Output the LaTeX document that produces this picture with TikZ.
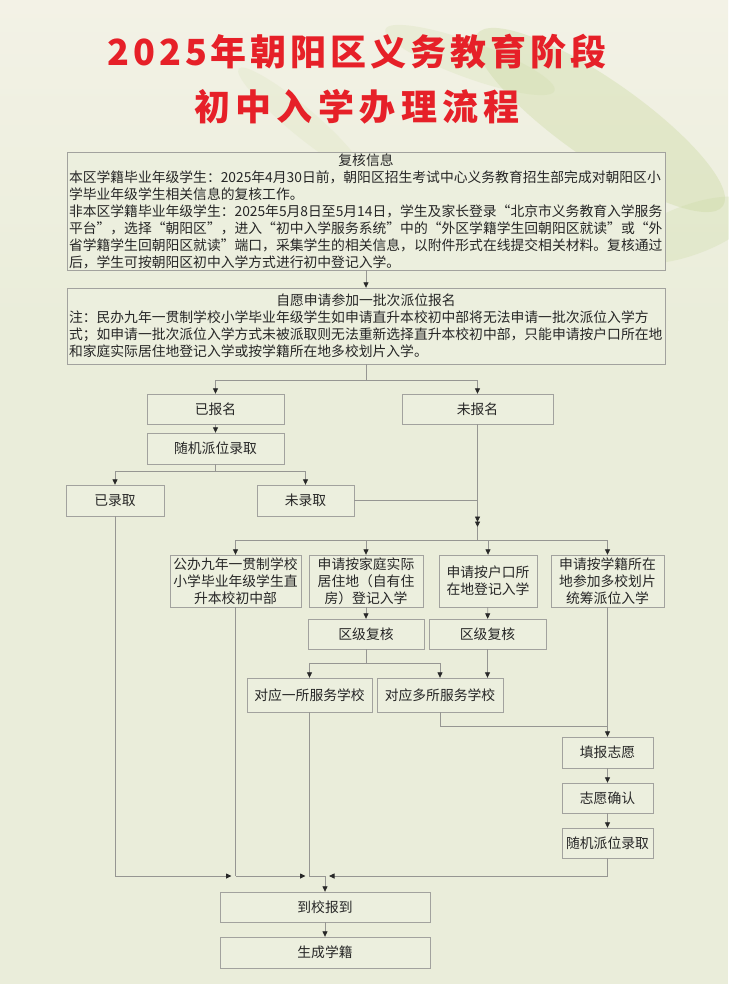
\documentclass[tikz,border=0pt]{standalone}
\usepackage{fontspec}
\setmainfont{Noto Sans CJK SC}
\newfontfamily\titlefont{Noto Sans CJK SC}
\usetikzlibrary{positioning}
\usetikzlibrary{arrows.meta}
\definecolor{paper}{RGB}{234,237,218}
\definecolor{paperlight}{RGB}{243,242,230}
\definecolor{leafgreen}{RGB}{200,216,156}
\definecolor{boxfill}{RGB}{236,239,222}
\definecolor{boxgray}{RGB}{162,162,158}
\definecolor{linegray}{RGB}{150,150,146}
\definecolor{tipdark}{RGB}{40,40,40}
\definecolor{titlered}{RGB}{230,32,40}
\tikzset{
    bodytext/.style = {font=\fontsize{13.8}{17}\selectfont, text=black!85},
    notebox/.style = {rectangle, draw=boxgray, fill=boxfill, bodytext, text width=594pt, align=left, inner xsep=2pt, inner ysep=0pt},
    procbox/.style = {rectangle, draw=boxgray, fill=boxfill, bodytext, align=center, inner sep=1pt},
    flowline/.style = {draw=linegray, line width=0.8pt},
    arrowline/.style = {flowline, -{Triangle[length=5.5pt,width=5pt,color=tipdark]}}}

\begin{document}
\begin{tikzpicture}[x=1pt,y=-1pt]
    \useasboundingbox (0,0) rectangle (728,984);
    % paper and watercolour leaves
    \fill[paper] (0,0) rectangle (728,984);
    \shade[top color=paperlight, bottom color=paper] (0,0) rectangle (728,320);
    \fill[leafgreen, opacity=0.35, rotate around={-35:(600,120)}] (600,120) ellipse (150 and 40);
    \fill[leafgreen, opacity=0.25, rotate around={20:(690,230)}] (690,230) ellipse (70 and 25);
    \fill[leafgreen, opacity=0.2, rotate around={-20:(470,60)}] (470,60) ellipse (90 and 18);
    \fill[leafgreen, opacity=0.15, rotate around={-40:(300,120)}] (300,120) ellipse (80 and 14);

    % title
    \node[text=titlered] (title1) at (357,52)
        {\fontsize{36}{40}\selectfont\titlefont\bfseries\addfontfeatures{LetterSpace=11}2025年朝阳区义务教育阶段};
    \node[text=titlered] (title2) at (357,107)
        {\fontsize{36}{40}\selectfont\titlefont\bfseries\addfontfeatures{LetterSpace=15}初中入学办理流程};

    % notes
    \node[notebox, minimum height=118pt] (verify) at (366,211) {%
        \makebox[\linewidth]{复核信息}\\
        本区学籍毕业年级学生：2025年4月30日前，朝阳区招生考试中心义务教育招生部完成对朝阳区小\\
        学毕业年级学生相关信息的复核工作。\\
        非本区学籍毕业年级学生：2025年5月8日至5月14日，学生及家长登录“北京市义务教育入学服务\\
        平台”，选择“朝阳区”，进入“初中入学服务系统”中的“外区学籍学生回朝阳区就读”或“外\\
        省学籍学生回朝阳区就读”端口，采集学生的相关信息，以附件形式在线提交相关材料。复核通过\\
        后，学生可按朝阳区初中入学方式进行初中登记入学。};
    \node[notebox, minimum height=76pt] (apply) at (366,326) {%
        \makebox[\linewidth]{自愿申请参加一批次派位报名}\\
        注：民办九年一贯制学校小学毕业年级学生如申请直升本校初中部将无法申请一批次派位入学方\\
        式；如申请一批次派位入学方式未被派取则无法重新选择直升本校初中部，只能申请按户口所在地\\
        和家庭实际居住地登记入学或按学籍所在地多校划片入学。};

    % batch lottery
    \node[procbox, minimum width=137pt, minimum height=30pt] (reg) at (215.5,409) {已报名};
    \node[procbox, minimum width=151pt, minimum height=30pt] (noreg) at (477.5,409) {未报名};
    \node[procbox, minimum width=137pt, minimum height=31pt] (lottery) at (215.5,448.5) {随机派位录取};
    \node[procbox, minimum width=98pt, minimum height=31pt] (admit) at (115,500.5) {已录取};
    \node[procbox, minimum width=97pt, minimum height=31pt] (notadmit) at (305.5,500.5) {未录取};

    % the four ways
    \node[procbox, minimum width=131pt, minimum height=52pt] (direct) at (235.5,581)
        {公办九年一贯制学校\\小学毕业年级学生直\\升本校初中部};
    \node[procbox, minimum width=114pt, minimum height=52pt] (home) at (366,581)
        {申请按家庭实际\\居住地（自有住\\房）登记入学};
    \node[procbox, minimum width=98pt, minimum height=52pt] (hukou) at (488,581)
        {申请按户口所\\在地登记入学};
    \node[procbox, minimum width=113pt, minimum height=52pt] (multi) at (607.5,581)
        {申请按学籍所在\\地参加多校划片\\统筹派位入学};
    \node[procbox, minimum width=116pt, minimum height=30pt] (review1) at (366,634) {区级复核};
    \node[procbox, minimum width=117pt, minimum height=30pt] (review2) at (487.5,634) {区级复核};
    \node[procbox, minimum width=125pt, minimum height=34pt] (one) at (309.5,695) {对应一所服务学校};
    \node[procbox, minimum width=126pt, minimum height=34pt] (many) at (440,695) {对应多所服务学校};
    \node[procbox, minimum width=91pt, minimum height=31pt] (wish) at (607.5,752.5) {填报志愿};
    \node[procbox, minimum width=91pt, minimum height=30pt] (confirm) at (607.5,798) {志愿确认};
    \node[procbox, minimum width=91pt, minimum height=30pt] (lottery2) at (607.5,843) {随机派位录取};

    % school
    \node[procbox, minimum width=210pt, minimum height=30pt] (report) at (325,907) {到校报到};
    \node[procbox, minimum width=210pt, minimum height=31pt] (enroll) at (325,952.5) {生成学籍};

    \coordinate (fork1) at (366,380);
    \coordinate (fork2) at (215.5,471);
    \coordinate (fork3) at (477.5,540);
    \coordinate (fork4) at (366,663);
    \coordinate (join) at (607.5,726);
    \coordinate (merge) at (325,876);

    \draw[arrowline] (verify) -- (apply);
    \draw[flowline] (apply.south) -- (fork1);
    \draw[arrowline] (fork1) -| (reg.north);
    \draw[arrowline] (fork1) -| (noreg.north);
    \draw[arrowline] (reg) -- (lottery);
    \draw[flowline] (lottery.south) -- (fork2);
    \draw[arrowline] (fork2) -| (admit.north);
    \draw[arrowline] (fork2) -| (notadmit.north);
    \draw[arrowline] (noreg.south) -- ([yshift=13pt]fork3);
    \draw[arrowline] (notadmit.east) -| ([yshift=18pt]fork3);
    \draw[flowline] ([yshift=13pt]fork3) -- (fork3);
    \draw[arrowline] (fork3) -| (direct.north);
    \draw[arrowline] (fork3) -| (home.north);
    \draw[arrowline] (fork3) -- (fork3 -| hukou.north) -- (hukou.north);
    \draw[arrowline] (fork3) -| (multi.north);
    \draw[arrowline] (home) -- (review1);
    \draw[arrowline] (hukou) -- (review2);
    \draw[flowline] (review1.south) -- (fork4);
    \draw[arrowline] (fork4) -| (one.north);
    \draw[arrowline] (fork4) -| (many.north);
    \draw[arrowline] (review2.south) -- (review2.south |- many.north);
    \draw[flowline] (many.south) |- (join);
    \draw[arrowline] (multi.south) -- (wish.north);
    \draw[arrowline] (wish) -- (confirm);
    \draw[arrowline] (confirm) -- (lottery2);
    \draw[arrowline] (admit.south) |- ([xshift=-4pt]direct.south |- merge);
    \draw[flowline] (direct.south) -- (direct.south |- merge);
    \draw[arrowline] (direct.south |- merge) -- ([xshift=-4pt]one.south |- merge);
    \draw[flowline] (one.south) |- (merge);
    \draw[arrowline] (lottery2.south) |- ([xshift=4pt]merge);
    \draw[arrowline] (merge) -- (report.north);
    \draw[arrowline] (report) -- (enroll);
\end{tikzpicture}
\end{document}
